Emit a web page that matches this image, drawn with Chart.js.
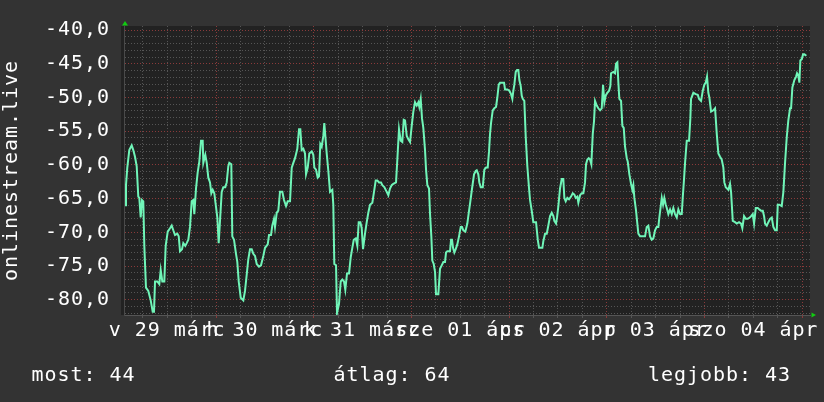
<!DOCTYPE html>
<html><head><meta charset="utf-8">
<script src="https://cdn.jsdelivr.net/npm/chart.js@4/dist/chart.umd.min.js"></script>
<style>html,body{margin:0;padding:0;background:#333333;overflow:hidden}canvas{display:block}</style>
</head><body>
<canvas id="c" width="824" height="402"></canvas>
<script>
// Time in hours since 29 márc 00:00
const hours = [1.65,1.89,2.21,2.70,3.29,3.68,4.10,4.52,4.91,5.16,5.50,5.82,6.14,6.39,6.80,7.37,7.96,8.45,8.77,9.02,9.58,10.07,10.42,10.81,11.30,11.64,12.14,12.70,13.12,13.51,13.93,14.49,14.84,15.16,15.65,15.97,16.46,16.80,17.20,17.61,18.03,18.42,18.67,19.09,19.50,19.90,20.32,20.73,20.88,21.37,21.72,22.11,22.53,22.85,23.19,23.58,23.93,24.32,24.66,24.98,25.40,25.79,26.28,26.63,27.02,27.27,27.76,28.00,28.42,28.91,29.23,29.58,30.07,30.71,31.12,31.54,31.93,32.35,32.77,33.16,33.58,34.00,34.56,35.05,35.62,36.04,36.70,37.02,37.51,37.83,38.25,38.49,38.91,39.30,39.72,40.29,40.70,41.20,41.61,42.18,42.60,42.99,43.41,43.97,44.39,44.71,45.05,45.45,45.86,46.11,46.53,46.92,47.51,47.90,48.15,48.56,48.98,49.30,49.62,49.96,50.36,50.60,50.85,51.19,51.59,52.00,52.57,52.81,53.06,53.48,53.72,54.21,54.63,55.03,55.44,55.76,56.18,56.67,57.09,57.48,57.83,58.32,58.71,59.05,59.45,59.79,60.11,60.60,61.02,61.41,61.83,62.40,62.81,63.23,63.62,64.04,64.53,64.85,65.34,65.93,66.33,66.74,67.16,67.55,68.22,68.54,68.95,69.37,69.76,70.11,70.43,70.85,71.24,71.66,72.07,72.47,72.88,73.30,73.70,73.94,74.28,74.60,74.92,75.34,75.59,75.91,76.32,76.57,76.89,77.13,77.48,77.80,78.04,78.61,79.02,79.44,79.84,80.25,80.50,80.82,81.48,81.73,81.97,82.22,82.54,82.88,83.27,83.69,84.11,84.43,84.75,85.24,85.73,86.08,86.47,86.89,87.38,87.80,88.04,88.43,88.68,89.02,89.52,89.91,90.33,90.74,91.06,91.31,91.55,91.97,92.36,92.78,93.10,93.45,93.76,94.75,94.99,95.56,96.05,96.47,96.79,97.03,97.28,97.62,97.94,98.26,98.51,98.85,99.09,99.34,99.73,100.08,100.47,100.89,101.13,101.55,101.94,102.61,103.03,103.34,104.16,104.40,104.82,105.24,105.63,106.05,106.46,106.86,107.10,107.52,107.77,108.09,108.50,108.92,109.31,109.56,109.90,110.30,110.71,111.20,111.62,112.02,112.36,112.75,113.00,113.42,113.83,114.23,114.64,114.89,115.21,115.55,115.87,116.19,116.54,116.85,117.10,117.52,117.91,118.33,118.75,119.07,119.39,119.73,120.12,120.54,120.86,121.03,121.60,122.01,122.26,122.58,122.83,123.07,123.49,123.81,124.15,124.47,124.89,125.13,125.53,125.94,126.26,126.51,126.76,127.17,127.42,127.74,128.16,129.38,129.80,130.19,130.61,131.03,131.42,131.84,132.26,132.65,132.90,133.24,133.49,133.81,134.12,134.47,134.72,135.11,135.53,135.94,136.34,136.75,137.17,137.56,137.98,138.40,138.64,138.96,139.21,139.63,140.19,140.51,140.68,141.25,141.84,142.33,142.65,143.14,143.56,143.95,144.29,144.61,144.93,145.18,145.60,146.16,146.58,147.00,147.39,147.81,148.22,148.62,148.86,149.21,149.85,150.26,150.51,150.93,151.49,151.91,152.47,152.97,153.28,153.70,154.12,154.61,155.10,155.42,155.84,156.16,156.58,157.07,157.46,157.88,158.30,158.62,158.86,159.28,159.67,160.09,160.51,160.90,161.32,161.74,161.98,162.37,162.96,163.36,163.77,164.19,164.59,165.00,165.25,165.57,166.06,166.48,166.72,167.04,167.29,167.53,167.88,168.20,168.52,169.01];
const values = [-66.0,-63.0,-60.4,-57.8,-57.1,-57.8,-58.8,-60.2,-64.7,-64.9,-67.8,-65.2,-65.4,-72.0,-78.2,-78.7,-80.1,-81.8,-81.8,-77.3,-77.3,-77.7,-75.6,-77.3,-77.3,-72.0,-69.9,-69.4,-69.0,-69.7,-70.4,-70.2,-70.6,-72.8,-72.5,-71.6,-72.0,-71.6,-71.1,-69.2,-65.4,-65.2,-67.3,-63.5,-61.1,-59.5,-56.4,-56.4,-59.7,-58.5,-59.7,-61.9,-62.6,-64.2,-63.7,-64.2,-65.9,-67.8,-71.6,-68.3,-64.0,-63.3,-63.3,-62.6,-60.2,-59.7,-59.9,-70.6,-71.1,-73.2,-74.4,-77.3,-79.7,-80.1,-78.7,-76.3,-74.0,-72.5,-72.5,-73.2,-73.5,-74.7,-75.1,-74.9,-73.5,-72.3,-71.8,-70.4,-70.4,-69.0,-68.0,-69.2,-67.1,-66.8,-64.0,-64.0,-65.2,-66.1,-65.4,-65.4,-60.4,-59.7,-59.0,-57.6,-54.7,-54.7,-57.8,-57.6,-58.3,-61.4,-60.4,-58.3,-58.0,-58.5,-60.4,-60.7,-61.9,-61.7,-56.9,-57.3,-55.7,-53.8,-55.7,-58.3,-60.9,-64.0,-63.7,-65.9,-74.7,-74.9,-82.0,-80.6,-77.3,-77.0,-77.3,-78.5,-76.1,-76.1,-73.7,-72.3,-71.1,-70.9,-72.0,-68.5,-68.5,-69.4,-72.5,-70.2,-68.5,-67.1,-65.9,-65.6,-64.0,-62.3,-62.3,-62.6,-62.6,-63.0,-63.3,-64.0,-64.5,-63.5,-63.0,-62.8,-62.6,-59.2,-54.7,-56.4,-56.6,-53.3,-53.4,-55.7,-56.2,-56.6,-54.2,-52.1,-50.7,-51.2,-50.7,-51.4,-50.2,-53.1,-54.5,-57.8,-60.7,-63.0,-63.5,-67.3,-70.6,-74.2,-74.7,-75.9,-79.2,-79.2,-75.4,-74.9,-74.4,-74.4,-73.0,-72.8,-72.8,-71.1,-71.1,-72.3,-73.0,-72.5,-71.8,-70.6,-69.2,-69.2,-69.7,-69.9,-68.7,-67.1,-65.4,-63.5,-61.4,-60.9,-60.8,-61.4,-62.6,-63.3,-63.3,-60.7,-60.4,-60.4,-58.0,-55.4,-53.8,-51.9,-51.6,-51.4,-50.0,-48.1,-47.8,-47.8,-48.8,-48.8,-49.0,-49.5,-50.2,-49.0,-48.1,-46.2,-45.9,-45.9,-47.4,-48.3,-49.7,-50.2,-50.5,-55.9,-60.2,-63.5,-65.2,-66.8,-68.5,-68.5,-71.1,-72.3,-72.3,-71.3,-70.2,-70.2,-69.0,-67.6,-67.1,-67.6,-68.3,-68.7,-67.8,-66.1,-63.5,-62.1,-62.1,-64.9,-65.4,-64.9,-65.1,-64.7,-64.2,-64.4,-64.9,-64.7,-65.6,-64.5,-64.2,-64.2,-62.6,-59.9,-59.2,-59.0,-59.2,-59.9,-55.4,-53.5,-50.5,-51.2,-51.6,-51.9,-51.6,-48.1,-50.7,-49.7,-49.3,-49.0,-48.3,-46.4,-46.2,-46.4,-45.0,-44.8,-47.8,-50.2,-50.5,-54.2,-54.5,-57.3,-59.0,-59.5,-61.4,-62.8,-63.7,-63.0,-64.9,-66.8,-68.3,-70.2,-70.6,-70.6,-69.2,-69.0,-70.6,-71.1,-70.9,-69.7,-69.2,-69.2,-67.8,-66.1,-64.9,-65.9,-64.9,-65.9,-66.4,-67.3,-66.6,-67.3,-66.4,-67.3,-67.8,-66.6,-67.3,-67.3,-64.9,-62.1,-59.7,-56.4,-56.4,-53.1,-50.2,-49.3,-49.5,-49.6,-50.2,-50.5,-49.0,-48.1,-47.8,-46.9,-49.3,-50.0,-52.1,-51.9,-51.6,-55.4,-58.3,-58.8,-59.2,-60.4,-62.6,-63.3,-63.7,-62.8,-64.0,-68.3,-68.5,-68.7,-68.5,-68.7,-69.4,-67.6,-68.0,-68.0,-67.8,-67.6,-67.3,-68.7,-66.4,-66.4,-66.6,-66.8,-66.8,-67.6,-68.7,-69.0,-68.5,-68.0,-67.8,-69.2,-69.7,-69.7,-65.9,-65.9,-66.1,-64.0,-59.7,-55.9,-53.3,-51.6,-51.6,-48.5,-47.4,-46.9,-46.4,-46.7,-47.8,-44.5,-44.3,-43.6,-43.6,-43.8];
const dayLabels = ['v 29 márc','h 30 márc','k 31 márc','sze 01 ápr','cs 02 ápr','p 03 ápr','szo 04 ápr'];
const legendLabels = ['most','átlag','legjobb'];
const legendValues = [44, 64, 43];
const axisTitle = 'onlinestream.live';
const xRange = [1.4, 169.9];
const yRange = [-82.27, -39.39];

const FONT = 'DejaVu Sans Mono';
const RED = '#8a3a3a';
const GREY = '#555555';
const LSP = '0.95px';

Chart.defaults.font.family = FONT;
Chart.defaults.font.size = 20;
Chart.defaults.color = '#ffffff';

const decor = {
  id: 'decor',
  beforeDraw(chart) {
    const ctx = chart.ctx, a = chart.chartArea;
    ctx.save();
    ctx.fillStyle = '#333333';
    ctx.fillRect(0, 0, chart.width, chart.height);
    ctx.fillStyle = '#222222';
    ctx.fillRect(a.left - 3, a.top, a.right - a.left + 3, a.bottom - a.top);
    ctx.restore();
    ctx.letterSpacing = LSP;
  },
  afterDraw(chart) {
    const ctx = chart.ctx, a = chart.chartArea;
    ctx.save();
    ctx.fillStyle = '#11cc11';
    ctx.beginPath();
    ctx.moveTo(a.left + 1, a.top - 5);
    ctx.lineTo(a.left - 2, a.top - 0.5);
    ctx.lineTo(a.left + 4, a.top - 0.5);
    ctx.closePath(); ctx.fill();
    ctx.beginPath();
    ctx.moveTo(a.right + 6, a.bottom);
    ctx.lineTo(a.right + 1.5, a.bottom - 2.5);
    ctx.lineTo(a.right + 1.5, a.bottom + 2.5);
    ctx.closePath(); ctx.fill();
    ctx.letterSpacing = LSP;
    ctx.font = '20px "' + FONT + '"';
    ctx.fillStyle = '#ffffff';
    ctx.textBaseline = 'alphabetic';
    ctx.textAlign = 'left';
    const lx = [31.5, 333.5, 648];
    legendLabels.forEach((l, i) => ctx.fillText(l + ': ' + legendValues[i], lx[i], 381));
    ctx.restore();
  }
};

new Chart(document.getElementById('c'), {
  type: 'line',
  data: {
    datasets: [{
      data: hours.map((h, i) => ({x: h, y: values[i]})),
      borderColor: '#70f5b8',
      borderWidth: 2,
      pointRadius: 0,
      tension: 0,
      fill: false
    }]
  },
  options: {
    responsive: false,
    animation: false,
    devicePixelRatio: 1,
    layout: {padding: {top: 14, right: 14, left: 0, bottom: 0}},
    plugins: {legend: {display: false}, tooltip: {enabled: false}},
    scales: {
      x: {
        type: 'linear',
        min: xRange[0], max: xRange[1],
        afterBuildTicks(axis) {
          const t = [];
          for (let h = Math.ceil(axis.min / 6) * 6; h <= axis.max; h += 6) t.push({value: h});
          axis.ticks = t;
        },
        afterFit(s) { s.height = 87; },
        ticks: {
          autoSkip: false, maxRotation: 0, minRotation: 0, padding: 1,
          callback: v => (v % 24 === 12 ? dayLabels[(v - 12) / 24] : '')
        },
        grid: {
          color: c => (c.tick && c.tick.value % 24 === 0 ? RED : GREY),
          drawTicks: true, tickLength: 3, lineWidth: 1
        },
        border: {display: true, color: '#555555', width: 1, dash: [1, 2]}
      },
      y: {
        min: yRange[0], max: yRange[1],
        afterBuildTicks(axis) {
          const t = [];
          for (let v = Math.ceil(axis.min); v <= Math.floor(axis.max); v++) t.push({value: v});
          axis.ticks = t;
        },
        afterFit(s) { s.width = 124; },
        ticks: {
          autoSkip: false,
          padding: 14,
          callback: v => (v % 5 === 0 ? v.toFixed(1).replace('.', ',') : '')
        },
        grid: {
          color: c => (c.tick && c.tick.value % 5 === 0 ? RED : GREY),
          drawTicks: false, lineWidth: 1
        },
        border: {display: true, color: '#4a4a4a', width: 1, dash: [1, 2]},
        title: {display: true, text: axisTitle, padding: 0, color: '#ffffff', font: {size: 20}}
      }
    }
  },
  plugins: [decor]
});
</script>
</body></html>
